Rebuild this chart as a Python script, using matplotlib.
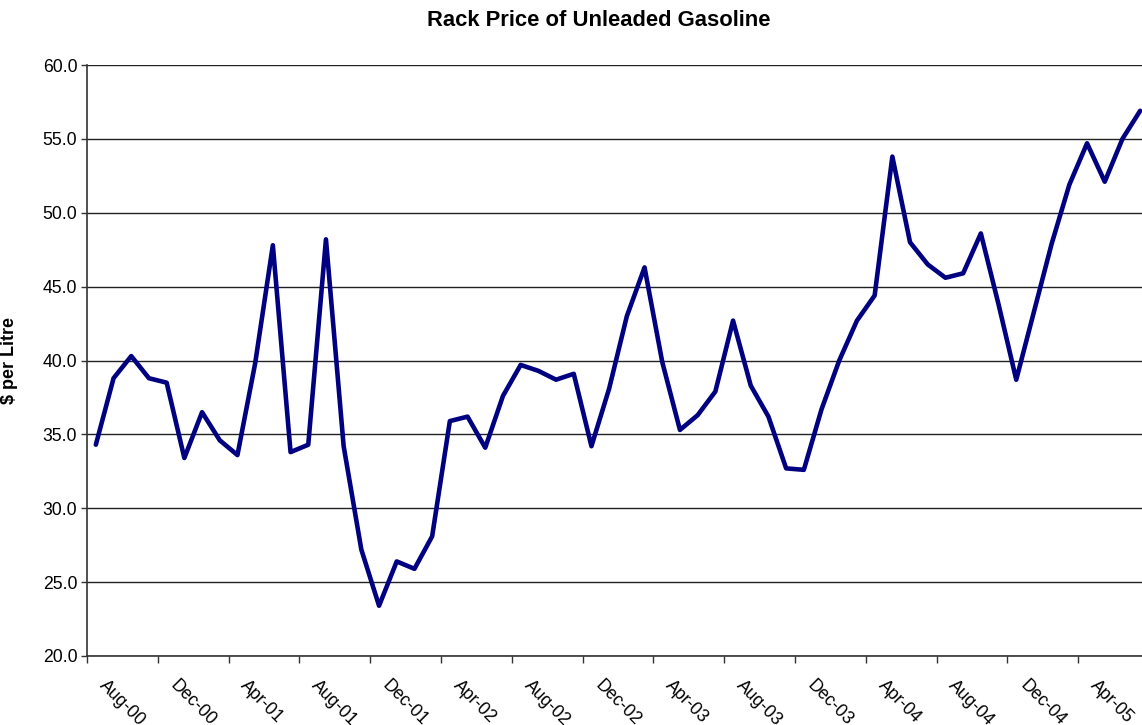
import matplotlib
matplotlib.use("Agg")
import matplotlib.pyplot as plt
import matplotlib.transforms as mtransforms
import pandas as pd

plt.rcParams["font.family"] = ["Liberation Sans", "DejaVu Sans"]

# Monthly rack price, Aug-2000 .. Jul-2005
months = pd.date_range("2000-08-01", periods=60, freq="MS")
prices = [34.3, 38.8, 40.3, 38.8, 38.5, 33.4, 36.5, 34.6, 33.6, 39.8,
          47.8, 33.8, 34.3, 48.2, 34.2, 27.2, 23.4, 26.4, 25.9, 28.1,
          35.9, 36.2, 34.1, 37.6, 39.7, 39.3, 38.7, 39.1, 34.2, 38.1,
          43.0, 46.3, 39.9, 35.3, 36.3, 37.9, 42.7, 38.3, 36.2, 32.7,
          32.6, 36.7, 40.0, 42.7, 44.4, 53.8, 48.0, 46.5, 45.6, 45.9,
          48.6, 43.8, 38.7, 43.3, 47.9, 51.9, 54.7, 52.1, 55.0, 56.9]
label_every = 4
tick_labels = [m.strftime("%b-%y") for m in months[::label_every]]
y_ticks = [20, 25, 30, 35, 40, 45, 50, 55, 60]

fig = plt.figure(figsize=(11.42, 7.25), dpi=100)
ax = fig.add_axes([87 / 1142, 1 - 656 / 725, 1062 / 1142, (656 - 65) / 725])

x = list(range(len(prices)))
ax.plot(x, prices, color="#000080", linewidth=3.3,
        solid_joinstyle="round", solid_capstyle="round", zorder=3,
        clip_on=False)

ax.set_xlim(-0.5, len(prices) - 0.5)
ax.set_ylim(20, 60)

# y axis
ax.set_yticks(y_ticks)
ax.set_yticklabels([f"{v:.1f}" for v in y_ticks])
ax.yaxis.grid(True, color="#222222", linewidth=1.0)
ax.set_axisbelow(True)
ax.tick_params(axis="y", direction="out", length=4, width=1.0,
               color="#333333", labelsize=12.7, pad=3)

# x axis: tick marks between categories, labels on categories
ax.set_xticks([i - 0.5 for i in range(0, len(prices), label_every)])
ax.set_xticklabels([])
ax.tick_params(axis="x", which="major", direction="out", length=5,
               width=1.0, color="#333333")
ax.set_xticks(x[::label_every], minor=True)
ax.set_xticklabels(tick_labels, minor=True)
ax.tick_params(axis="x", which="minor", length=0, labelsize=12.7, pad=15)
offset = mtransforms.ScaledTranslation(12 / 100, 0, fig.dpi_scale_trans)
for lab in ax.get_xticklabels(minor=True):
    lab.set_rotation(-45)
    lab.set_rotation_mode("anchor")
    lab.set_ha("left")
    lab.set_va("top")
    lab.set_transform(lab.get_transform() + offset)

for side in ("top", "right"):
    ax.spines[side].set_visible(False)
for side in ("left", "bottom"):
    ax.spines[side].set_color("#333333")
    ax.spines[side].set_linewidth(1.2)

ax.set_ylabel("$ per Litre", fontsize=13, fontweight="bold", labelpad=12)
ax.yaxis.set_label_coords(-(87 - 18) / 1062, 0.5)

fig.text(599 / 1142, 1 - 20 / 725, "Rack Price of Unleaded Gasoline",
         ha="center", va="center", fontsize=15.8, fontweight="bold")

fig.savefig("out.png", dpi=100)
